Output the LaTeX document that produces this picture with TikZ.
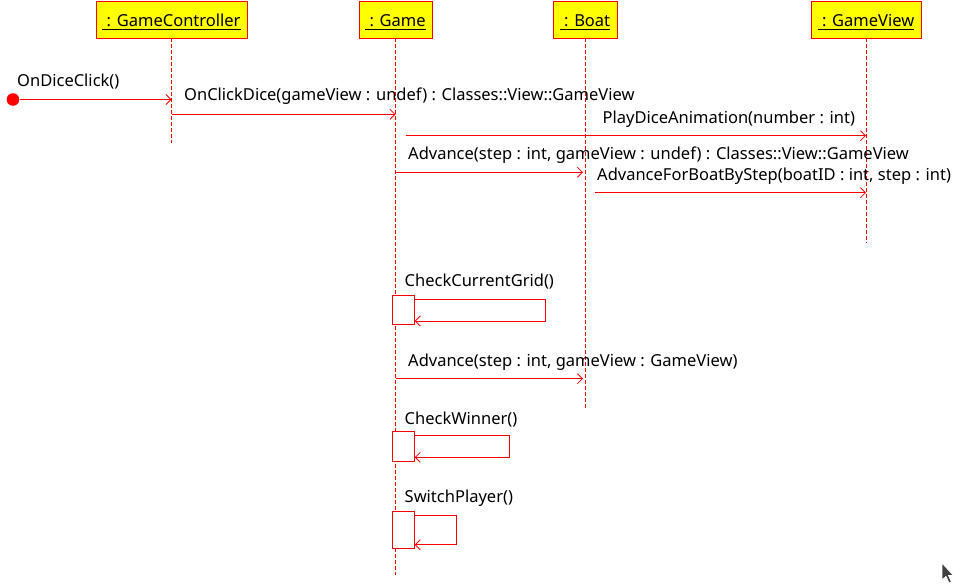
\documentclass[tikz,border=0pt]{standalone}
\usepackage{fontspec}
\setmainfont{Noto Sans}
\usetikzlibrary{arrows.meta,calc}
\definecolor{lred}{HTML}{FF0000}
\definecolor{hyel}{HTML}{FFFF00}
\definecolor{cursorgray}{HTML}{404040}
\begin{document}
\begin{tikzpicture}[x=1pt,y=-1pt,
  font=\fontsize{16.5}{19.5}\selectfont,
  head/.style={draw=lred, fill=hyel, line width=0.9pt, inner sep=0pt, minimum height=37pt},
  htxt/.style={anchor=base, inner sep=0pt, text=black},
  uline/.style={draw=black, line width=0.8pt},
  lifeline/.style={draw=lred, dash pattern=on 4pt off 2pt, line width=0.8pt},
  msg/.style={draw=lred, line width=0.8pt, -{Straight Barb[length=5pt,width=10pt]}},
  lbl/.style={anchor=base west, inner sep=0pt, text=black},
  act/.style={draw=lred, fill=white, line width=0.8pt, inner sep=0pt, minimum width=22pt},
  startdot/.style={circle, fill=lred, inner sep=0pt, minimum size=12.6pt}
]
\useasboundingbox (0,0) rectangle (965,586);
\fill[white] (0,0) rectangle (965,586);

% ---- lifeline heads
\node[head, minimum width=151pt] (gc) at (171.5,19.5) {};
\node[head, minimum width=73pt]  (gm) at (395.5,19.5) {};
\node[head, minimum width=64pt]  (bt) at (585,19.5) {};
\node[head, minimum width=110pt] (gv) at (866,19.5) {};

\node[htxt] (gct) at (171.5,26.7) {\ : GameController};
\node[htxt] (gmt) at (395.5,26.7) {\ : Game};
\node[htxt] (btt) at (585,26.7) {\ : Boat};
\node[htxt] (gvt) at (866,26.7) {\ : GameView};
\foreach \t in {gct,gmt,btt,gvt}{
  \draw[uline] ($(\t.base west)+(0,2.6)$) -- ($(\t.base east)+(0,2.6)$);
}

% ---- lifelines
\coordinate (gcend) at (171.5,143);
\coordinate (gmend) at (395.5,575);
\coordinate (btend) at (585,408);
\coordinate (gvend) at (866,243);
\draw[lifeline] (gc.south) -- (gcend);
\draw[lifeline] (gm.south) -- (gmend);
\draw[lifeline] (bt.south) -- (btend);
\draw[lifeline] (gv.south) -- (gvend);

% ---- found message
\node[startdot] (start) at (13,99.5) {};
\coordinate (m1e) at (171.5,99.5);
\draw[msg] (start) -- (m1e);
\node[lbl] (l1) at (17,86) {OnDiceClick()};

% ---- OnClickDice
\coordinate (m2s) at (171.5,114.3);
\coordinate (m2e) at (395.5,114.3);
\draw[msg] (m2s) -- (m2e);
\node[lbl] (l2) at (184,100.7) {OnClickDice(gameView : undef) : Classes::View::GameView};

% ---- PlayDiceAnimation
\coordinate (m3s) at (405.5,135.7);
\coordinate (m3e) at (866,135.7);
\draw[msg] (m3s) -- (m3e);
\node[lbl] (l3) at (602.5,123.3) {PlayDiceAnimation(number : int)};

% ---- Advance 1
\coordinate (m4s) at (395.5,172.3);
\coordinate (m4e) at (583,172.3);
\draw[msg] (m4s) -- (m4e);
\node[lbl] (l4) at (408,159.3) {Advance(step : int, gameView : undef) : Classes::View::GameView};

% ---- AdvanceForBoatByStep
\coordinate (m5s) at (595,192.7);
\coordinate (m5e) at (866,192.7);
\draw[msg] (m5s) -- (m5e);
\node[lbl] (l5) at (597,180.7) {AdvanceForBoatByStep(boatID : int, step : int)};

% ---- CheckCurrentGrid (self)
\node[act, minimum height=29.3pt] (a1) at (403.7,309.7) {};
\coordinate (s1a) at (414.7,299.3);
\coordinate (s1b) at (545.7,299.3);
\coordinate (s1c) at (545.7,321);
\coordinate (s1d) at (414.7,321);
\draw[msg] (s1a) -- (s1b) -- (s1c) -- (s1d);
\node[lbl] (l6) at (404.5,286.7) {CheckCurrentGrid()};

% ---- Advance 2
\coordinate (m7s) at (395.5,378.7);
\coordinate (m7e) at (583,378.7);
\draw[msg] (m7s) -- (m7e);
\node[lbl] (l7) at (408,366) {Advance(step : int, gameView : GameView)};

% ---- CheckWinner (self)
\node[act, minimum height=29.3pt] (a2) at (403.7,446.3) {};
\coordinate (s2a) at (414.7,435.3);
\coordinate (s2b) at (509.3,435.3);
\coordinate (s2c) at (509.3,457.3);
\coordinate (s2d) at (414.7,457.3);
\draw[msg] (s2a) -- (s2b) -- (s2c) -- (s2d);
\node[lbl] (l8) at (404.5,424) {CheckWinner()};

% ---- SwitchPlayer (self)
\node[act, minimum height=37.3pt] (a3) at (403.7,529.7) {};
\coordinate (s3a) at (414.7,515.3);
\coordinate (s3b) at (456,515.3);
\coordinate (s3c) at (456,544.7);
\coordinate (s3d) at (414.7,544.7);
\draw[msg] (s3a) -- (s3b) -- (s3c) -- (s3d);
\node[lbl] (l9) at (404.5,502.7) {SwitchPlayer()};

% ---- mouse cursor
\filldraw[fill=cursorgray, draw=white, line width=0.8pt]
  (942,563) -- (942,580) -- (946,576.5) -- (949,583) -- (951.5,582) -- (948.5,575.5) -- (953.5,575.5) -- cycle;
\end{tikzpicture}
\end{document}
